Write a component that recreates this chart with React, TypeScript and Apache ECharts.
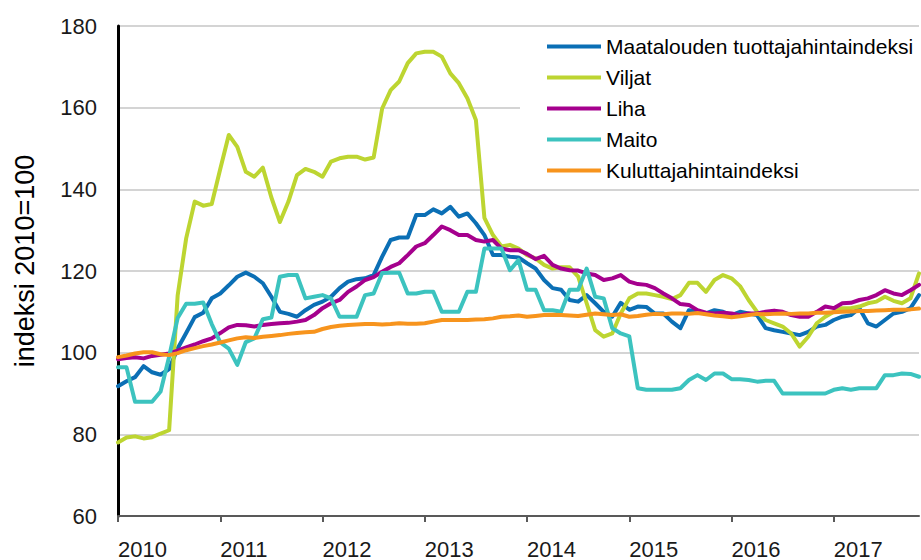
import React, { useEffect, useRef } from 'react';
import * as echarts from 'echarts';

const FONT = '"Liberation Sans", Arial, sans-serif';

const years = ['2010', '2011', '2012', '2013', '2014', '2015', '2016', '2017'];
const months = ['01', '02', '03', '04', '05', '06', '07', '08', '09', '10', '11', '12'];
const lastMonthCount = 95;

const seriesNames = [
  'Maatalouden tuottajahintaindeksi',
  'Viljat',
  'Liha',
  'Maito',
  'Kuluttajahintaindeksi',
];
const seriesColors = ['#0B6FB5', '#BDD531', '#A5008D', '#3CC3BF', '#F7941D'];

const maatalous = [
  91.8, 93, 94, 96.7, 95.2, 94.6, 96, 101, 104.8, 108.7, 109.8, 113.3,
  114.5, 116.5, 118.6, 119.6, 118.6, 117, 113.7, 110, 109.5, 108.8, 110.4, 111.7,
  112.5, 113.7, 115.8, 117.4, 118, 118.2, 119, 123.5, 127.6, 128.2, 128.2, 133.7,
  133.7, 135.1, 134.1, 135.7, 133.3, 134.1, 131.7, 128.8, 123.9, 123.9, 123.5, 123.3,
  121.9, 120.6, 117.8, 115.8, 115.4, 112.9, 112.5, 114.1, 112.1, 110, 108.8, 112.2,
  110.5, 111.3, 111.2, 109.6, 109.6, 107.6, 106, 110.4, 110, 109.6, 110.4, 110,
  109.2, 110, 109.6, 109.2, 106, 105.5, 105.1, 104.7, 104.3, 105.1, 106.4, 106.8,
  108, 108.8, 109.2, 110.9, 107.2, 106.4, 108, 109.6, 110, 110.9, 114.1,
];

const viljat = [
  78, 79.2, 79.5, 79, 79.3, 80.2, 81, 114, 128, 137, 136, 136.4,
  145, 153.3, 150.4, 144.3, 143.1, 145.3, 138, 132, 137, 143.5, 145, 144.3,
  143.1, 146.8, 147.6, 148, 148, 147.3, 147.8, 159.8, 164.3, 166.4, 170.9, 173.3,
  173.7, 173.7, 172.5, 168.4, 166, 162.3, 157, 133, 128.8, 126, 126.4, 125.5,
  123.9, 123.1, 121.5, 120.6, 120.9, 120.9, 118.6, 112.1, 105.5, 103.9, 104.7, 109.6,
  113.3, 114.5, 114.5, 114.1, 113.7, 113.1, 114.1, 117.1, 117.1, 114.9, 117.8, 119,
  118.2, 116.3, 112.9, 110, 108, 107.2, 106.4, 104.7, 101.5, 103.9, 107.2, 108.8,
  110, 110.9, 110.9, 111.3, 112.1, 112.5, 113.7, 112.7, 112.1, 113.3, 119.4,
];

const liha = [
  98.4, 98.7, 98.9, 98.6, 99.2, 99.5, 99.8, 100.5, 101.3, 102, 102.8, 103.5,
  104.8, 106.2, 106.8, 106.7, 106.4, 106.8, 107, 107.2, 107.3, 107.6, 108, 109.2,
  110.9, 112.1, 112.9, 114.9, 116.2, 117.8, 118.5, 119.8, 121, 121.9, 123.9, 126,
  126.8, 128.8, 130.9, 130, 128.8, 128.8, 127.6, 127.2, 127.6, 125.5, 125.1, 125.1,
  124.2, 122.9, 123.7, 121.5, 120.6, 120.2, 120.1, 119.4, 119, 117.8, 118.2, 119,
  117.4, 116.8, 116.6, 115.8, 114.5, 113.3, 111.9, 111.7, 110.4, 109.8, 109.6, 109.8,
  109.6, 109.2, 109.6, 109.6, 110, 110.3, 110, 109.2, 108.8, 108.8, 110, 111.3,
  110.9, 112.1, 112.2, 112.9, 113.3, 114.1, 115.3, 114.5, 114.1, 115.3, 116.6,
];

const maito = [
  96.4, 96.4, 88, 88, 88, 90.5, 99, 108.5, 112, 112, 112.3, 107,
  102.5, 101, 97, 102.6, 103.5, 108.2, 108.6, 118.6, 119, 119, 113.3, 113.7,
  114.1, 113.3, 108.8, 108.8, 108.8, 114.1, 114.5, 119.5, 119.6, 119.6, 114.5, 114.5,
  114.9, 114.9, 110, 110, 110, 114.9, 114.9, 125.5, 125.5, 125.5, 120.2, 122.7,
  115.4, 115.4, 110.4, 110.4, 110, 115.4, 115.4, 120.6, 113.7, 113.3, 106, 104.7,
  104, 91.3, 90.9, 90.9, 90.9, 90.9, 91.3, 93.3, 94.5, 93.3, 94.9, 94.9,
  93.5, 93.5, 93.3, 92.9, 93.1, 93.1, 90, 90, 90, 90, 90, 90,
  90.9, 91.3, 90.9, 91.3, 91.3, 91.3, 94.5, 94.5, 94.9, 94.8, 94.1,
];

const kuluttaja = [
  98.9, 99.3, 99.8, 100.1, 100.1, 99.6, 99.4, 99.9, 100.6, 101.1, 101.6, 102,
  102.5, 103, 103.5, 103.8, 103.6, 103.9, 104.1, 104.3, 104.6, 104.8, 105, 105.1,
  105.8, 106.3, 106.6, 106.8, 106.9, 107, 107, 106.9, 107, 107.2, 107.1, 107.1,
  107.2, 107.6, 108, 108, 108, 108, 108.1, 108.2, 108.4, 108.8, 108.9, 109.1,
  108.8, 109, 109.2, 109.3, 109.2, 109.1, 109, 109.3, 109.6, 109.4, 109.2, 109.4,
  108.8, 109, 109.3, 109.5, 109.4, 109.6, 109.6, 109.5, 109.7, 109.4, 109.1, 108.9,
  108.7, 108.9, 109.2, 109.5, 109.4, 109.5, 109.6, 109.5, 109.6, 109.6, 109.8, 109.8,
  109.9, 110, 110.1, 110.2, 110.2, 110.3, 110.4, 110.5, 110.5, 110.6, 110.8,
];

const seriesData = [maatalous, viljat, liha, maito, kuluttaja];

const categories: string[] = [];
years.forEach((y) => months.forEach((m) => categories.push(y + '-' + m)));
categories.length = lastMonthCount;

export default function App() {
  const ref = useRef<HTMLDivElement>(null);
  useEffect(() => {
    if (!ref.current) return;
    const chart = echarts.init(ref.current, null, { renderer: 'svg' });
    chart.setOption({
      animation: false,
      backgroundColor: '#ffffff',
      textStyle: { fontFamily: FONT },
      grid: { left: 118, right: 2, top: 26, bottom: 44, containLabel: false },
      xAxis: {
        type: 'category',
        data: categories,
        boundaryGap: false,
        axisLine: { show: true, lineStyle: { color: '#595959', width: 2 } },
        axisTick: {
          show: true,
          interval: (i: number) => i % 12 === 0,
          length: 6,
          lineStyle: { color: '#595959', width: 2 },
        },
        axisLabel: {
          interval: (i: number) => i % 12 === 0,
          formatter: (v: string) => v.slice(0, 4),
          fontSize: 22,
          color: '#1a1a1a',
          margin: 22,
          align: 'left',
          fontFamily: FONT,
        },
        splitLine: { show: false },
      },
      yAxis: {
        type: 'value',
        min: 60,
        max: 180,
        interval: 20,
        axisLine: { show: true, lineStyle: { color: '#000000', width: 3 } },
        axisTick: { show: false },
        axisLabel: { fontSize: 22, color: '#1a1a1a', margin: 21, fontFamily: FONT },
        splitLine: { show: true, lineStyle: { color: '#c6c6c6', width: 1.5 } },
      },
      legend: {
        orient: 'vertical',
        left: 520,
        top: 30,
        padding: [6, 30, 6, 27],
        backgroundColor: '#ffffff',
        icon: 'rect',
        itemWidth: 54,
        itemHeight: 4,
        itemGap: 10,
        selectedMode: false,
        textStyle: { fontSize: 21, color: '#000000', lineHeight: 21, fontFamily: FONT },
        data: seriesNames,
      },
      graphic: [
        {
          type: 'text',
          x: 25,
          y: 261,
          rotation: Math.PI / 2,
          style: {
            text: 'indeksi 2010=100',
            fontSize: 27,
            fill: '#000000',
            textAlign: 'center',
            textVerticalAlign: 'middle',
            fontFamily: FONT,
          },
        },
      ],
      series: seriesNames.map((name, i) => ({
        name,
        type: 'line',
        data: seriesData[i],
        symbol: 'none',
        silent: true,
        color: seriesColors[i],
        lineStyle: { color: seriesColors[i], width: 4, cap: 'round', join: 'round' },
        emphasis: { disabled: true },
      })),
    });
    return () => chart.dispose();
  }, []);
  return (
    <div
      ref={ref}
      style={{ position: 'fixed', left: 0, top: 0, width: 921, height: 560 }}
    />
  );
}
